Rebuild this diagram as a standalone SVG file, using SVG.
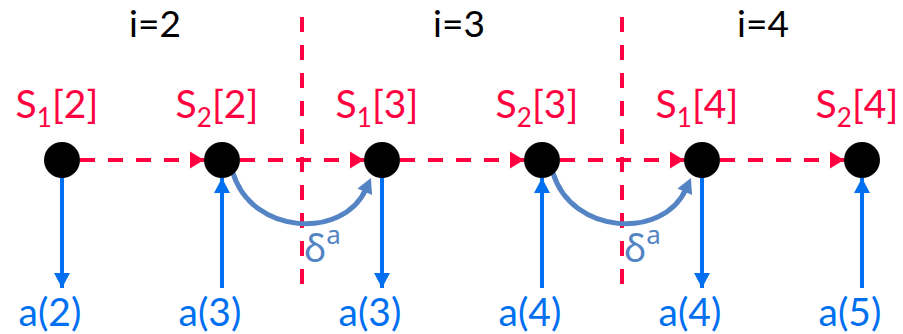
<svg xmlns="http://www.w3.org/2000/svg" width="903" height="334" viewBox="0 0 903 334">
<style>
.txt{font-family:Lato,"Open Sans","Liberation Sans",sans-serif}
.red{fill:#FF0040}
.blue{fill:#0070F0}
.blk{fill:#000}
.sb{fill:#5584C4}
.rdash{stroke:#FF0040;stroke-width:4;stroke-dasharray:15 13;fill:none}
.ba{stroke:#0070F0;stroke-width:4;fill:none}
.cv{stroke:#5584C4;stroke-width:5;fill:none}
.node{fill:#000}
</style>
<defs>
<marker id="mr" markerUnits="userSpaceOnUse" markerWidth="14" markerHeight="17" refX="14" refY="8.5" orient="auto" overflow="visible">
<path d="M0,0 L14,8.5 L0,17 z" fill="#FF0040"/>
</marker>
<marker id="mb" markerUnits="userSpaceOnUse" markerWidth="15" markerHeight="16" refX="15" refY="8" orient="auto" overflow="visible">
<path d="M0,0 L15,8 L0,16 z" fill="#0070F0"/>
</marker>
<marker id="ms" markerUnits="userSpaceOnUse" markerWidth="15" markerHeight="16" refX="3" refY="8" orient="auto" overflow="visible">
<path d="M0,0 L15,8 L0,16 z" fill="#5584C4"/>
</marker>
</defs>
<g id="dividers">
<line class="rdash" x1="302" y1="17" x2="302" y2="290"/>
<line class="rdash" x1="622" y1="17" x2="622" y2="290"/>
</g>
<g id="headers" class="txt" font-size="37">
<text class="blk" x="155" y="37" text-anchor="middle">i=2</text>
<text class="blk" x="459" y="37" text-anchor="middle">i=3</text>
<text class="blk" x="763" y="37" text-anchor="middle">i=4</text>
</g>
<g id="connectors">
<line class="rdash" x1="80" y1="160" x2="204" y2="160" marker-end="url(#mr)"/>
<line class="rdash" x1="240" y1="160" x2="364" y2="160" marker-end="url(#mr)"/>
<line class="rdash" x1="400" y1="160" x2="524" y2="160" marker-end="url(#mr)"/>
<line class="rdash" x1="560" y1="160" x2="684" y2="160" marker-end="url(#mr)"/>
<line class="rdash" x1="720" y1="160" x2="844" y2="160" marker-end="url(#mr)"/>
<line class="ba" x1="62" y1="176" x2="62" y2="288" marker-end="url(#mb)"/>
<line class="ba" x1="222" y1="288" x2="222" y2="178" marker-end="url(#mb)"/>
<line class="ba" x1="382" y1="176" x2="382" y2="288" marker-end="url(#mb)"/>
<line class="ba" x1="542" y1="288" x2="542" y2="178" marker-end="url(#mb)"/>
<line class="ba" x1="702" y1="176" x2="702" y2="288" marker-end="url(#mb)"/>
<line class="ba" x1="862" y1="288" x2="862" y2="178" marker-end="url(#mb)"/>
<path class="cv" d="M233,173 C252,235 343,240 366,189" marker-end="url(#ms)"/>
<path class="cv" d="M553,173 C572,235 663,240 686,189" marker-end="url(#ms)"/>
</g>
<g id="n1"><circle class="node" cx="62" cy="160" r="18"/>
<text class="txt red" x="57" y="118" font-size="39" text-anchor="middle">S<tspan font-size="26" dy="9">1</tspan><tspan dy="-9">[2]</tspan></text>
<text class="txt blue" x="50" y="326" font-size="39" text-anchor="middle">a(2)</text></g>
<g id="n2"><circle class="node" cx="222" cy="160" r="18"/>
<text class="txt red" x="217" y="118" font-size="39" text-anchor="middle">S<tspan font-size="26" dy="9">2</tspan><tspan dy="-9">[2]</tspan></text>
<text class="txt blue" x="210" y="326" font-size="39" text-anchor="middle">a(3)</text></g>
<g id="n3"><circle class="node" cx="382" cy="160" r="18"/>
<text class="txt red" x="377" y="118" font-size="39" text-anchor="middle">S<tspan font-size="26" dy="9">1</tspan><tspan dy="-9">[3]</tspan></text>
<text class="txt blue" x="370" y="326" font-size="39" text-anchor="middle">a(3)</text></g>
<g id="n4"><circle class="node" cx="542" cy="160" r="18"/>
<text class="txt red" x="537" y="118" font-size="39" text-anchor="middle">S<tspan font-size="26" dy="9">2</tspan><tspan dy="-9">[3]</tspan></text>
<text class="txt blue" x="530" y="326" font-size="39" text-anchor="middle">a(4)</text></g>
<g id="n5"><circle class="node" cx="702" cy="160" r="18"/>
<text class="txt red" x="697" y="118" font-size="39" text-anchor="middle">S<tspan font-size="26" dy="9">1</tspan><tspan dy="-9">[4]</tspan></text>
<text class="txt blue" x="690" y="326" font-size="39" text-anchor="middle">a(4)</text></g>
<g id="n6"><circle class="node" cx="862" cy="160" r="18"/>
<text class="txt red" x="857" y="118" font-size="39" text-anchor="middle">S<tspan font-size="26" dy="9">2</tspan><tspan dy="-9">[4]</tspan></text>
<text class="txt blue" x="850" y="326" font-size="39" text-anchor="middle">a(5)</text></g>
<g id="delta-labels">
<text class="sb" x="304" y="262" font-family="'Noto Sans','DejaVu Sans',sans-serif" font-size="38">δ<tspan font-size="26" dy="-18">a</tspan></text>
<text class="sb" x="624" y="262" font-family="'Noto Sans','DejaVu Sans',sans-serif" font-size="38">δ<tspan font-size="26" dy="-18">a</tspan></text>
</g>
</svg>
